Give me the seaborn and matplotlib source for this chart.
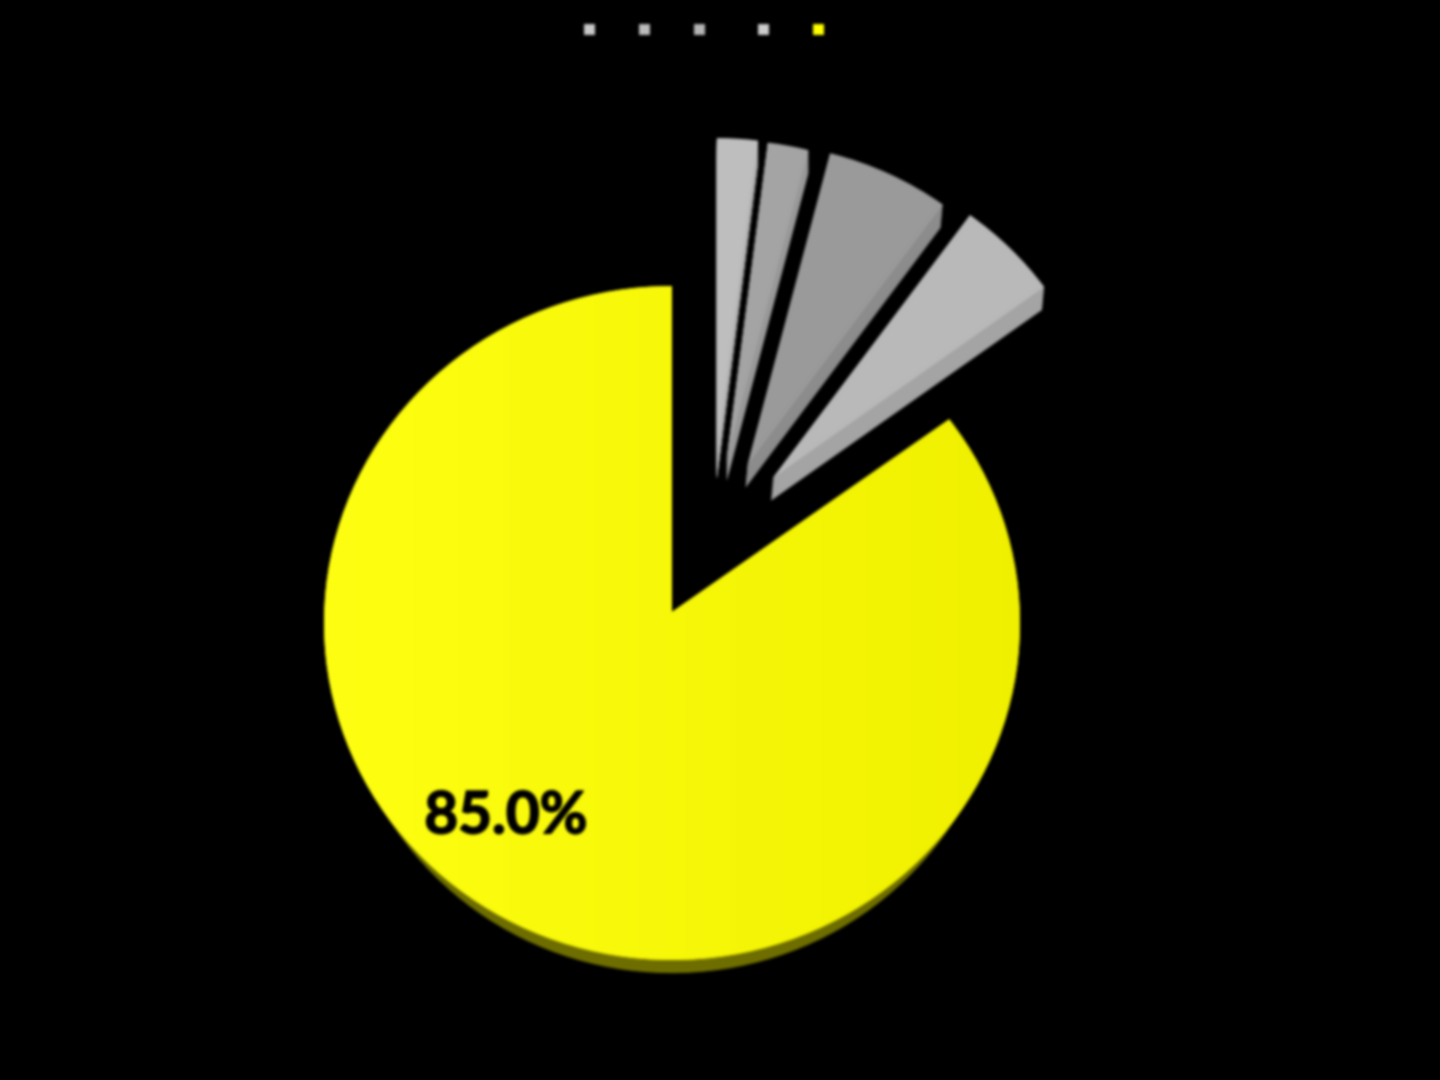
import numpy as np
import matplotlib
matplotlib.use("Agg")
import matplotlib.pyplot as plt
import matplotlib.patheffects as pe
from matplotlib.patches import Patch, Rectangle
from matplotlib.path import Path
import seaborn as sns

# data
values = [2, 2, 6, 5, 85]
legend_labels = [" " * 8, " " * 8, " " * 10, " " * 8, " " * 8]  # legend text is invisible in the reference
face_colors = ["#bebebe", "#a4a4a4", "#9a9a9a", "#b9b9b9", "#f6f600"]
side_colors = ["#acacac", "#989898", "#8c8c8c", "#a4a4a4", "#6e6e00"]
legend_colors = ["#c8c8c8", "#bbbbbb", "#b4b4b4", "#cccccc", "#ffff00"]

# displaced position of every exploded slice (axes units), and its radius
offset_x = [0.129, 0.157, 0.217, 0.289, 0.0]
offset_y = [0.494, 0.488, 0.469, 0.430, 0.0]
radii = [0.945, 0.945, 0.955, 0.965, 1.0]
depths = [0.068, 0.068, 0.068, 0.068, 0.089]
skews = [0.0, 0.0, 0.006, 0.006, 0.0]
shrinks = [0.0, 0.0, 0.0, 0.0, 0.05]
apex_lift = 0.033
edge_shift = 1.2

sns.set_theme(style="dark", rc={"figure.facecolor": "black", "axes.facecolor": "black"})
plt.rcParams["font.family"] = ["Lato", "DejaVu Sans"]

fig = plt.figure(figsize=(14.4, 10.8), dpi=100, facecolor="black")
ax = fig.add_axes([(672 - 348) / 1440, (1080 - 623 - 337) / 1080, 696 / 1440, 674 / 1080])
ax.add_patch(Rectangle((0, 0), 1, 1, transform=fig.transFigure, color="black",
                       clip_on=False, zorder=-10))

# extruded sides: stacked copies of the pie, moved downward
for frac in np.linspace(1, 0, 30, endpoint=False):
    wedges, _ = ax.pie(values, colors=side_colors, startangle=90, counterclock=False)
    for w, ox, oy, r, depth, skew, shrink in zip(wedges, offset_x, offset_y, radii,
                                                  depths, skews, shrinks):
        w.set_radius(r - shrink * frac)
        w.set_center((ox - skew * frac, oy - depth * frac))
        w.set_linewidth(0)
        w.set_zorder(1)

# top faces
faces, _, pct = ax.pie(values, colors=face_colors, startangle=90, counterclock=False,
                       autopct=lambda p: f"{p:.1f}%" if p > 50 else "")
for w, ox, oy, r in zip(faces, offset_x, offset_y, radii):
    w.set_radius(r)
    w.set_center((ox, oy))
    w.set_linewidth(0)
    w.set_zorder(2)

# the large slice's point sits a little above the ellipse centre
big = faces[-1]
big.set_theta2(big.theta2 + edge_shift)
p = big.get_path()
v = p.vertices.copy()
v[np.all(np.isclose(v, big.center), axis=1), 1] += apex_lift
big._path = Path(v, p.codes)

# subtle left-to-right shading of the large slice
grad = np.ones((2, 256, 3))
grad[:, :, 0] = np.linspace(1.0, 0.94, 256)
grad[:, :, 1] = np.linspace(1.0, 0.94, 256)
grad[:, :, 2] = np.linspace(0.07, 0.0, 256)
im = ax.imshow(grad, extent=(-1, 1, -1.05, 1.05), aspect="auto", zorder=3)
im.set_clip_path(big)

for t in pct:
    t.set_zorder(5)
t = pct[-1]
t.set_position((-0.477, -0.575))
t.set_fontsize(42)
t.set_fontweight("bold")
t.set_color("black")
t.set_ha("center")
t.set_va("center")
t.set_path_effects([pe.withStroke(linewidth=1.2, foreground="black")])

ax.set_aspect("auto")
ax.set_xlim(-1, 1)
ax.set_ylim(-1, 1)
ax.axis("off")

handles = [Patch(facecolor=c, edgecolor="none") for c in legend_colors]
leg = ax.legend(handles, legend_labels, ncols=5, loc="center",
                bbox_to_anchor=(721 / 1440, 1 - 30 / 1080), bbox_transform=fig.transFigure,
                frameon=False, fontsize=12, labelcolor="black",
                handlelength=0.66, handleheight=0.66, handletextpad=0.0,
                columnspacing=0.6, borderpad=0, borderaxespad=0)
leg.set_zorder(6)


def soften(img, dpi):
    kernel = np.array([1, 4, 7, 9, 7, 4, 1], dtype=float)
    kernel /= kernel.sum()
    out = img.copy()
    for axis in (0, 1):
        out = np.apply_along_axis(lambda m: np.convolve(m, kernel, mode="same"), axis, out)
    return out, 0, 0


ax.set_agg_filter(soften)
fig.savefig("out.png", dpi=100, facecolor="black")
